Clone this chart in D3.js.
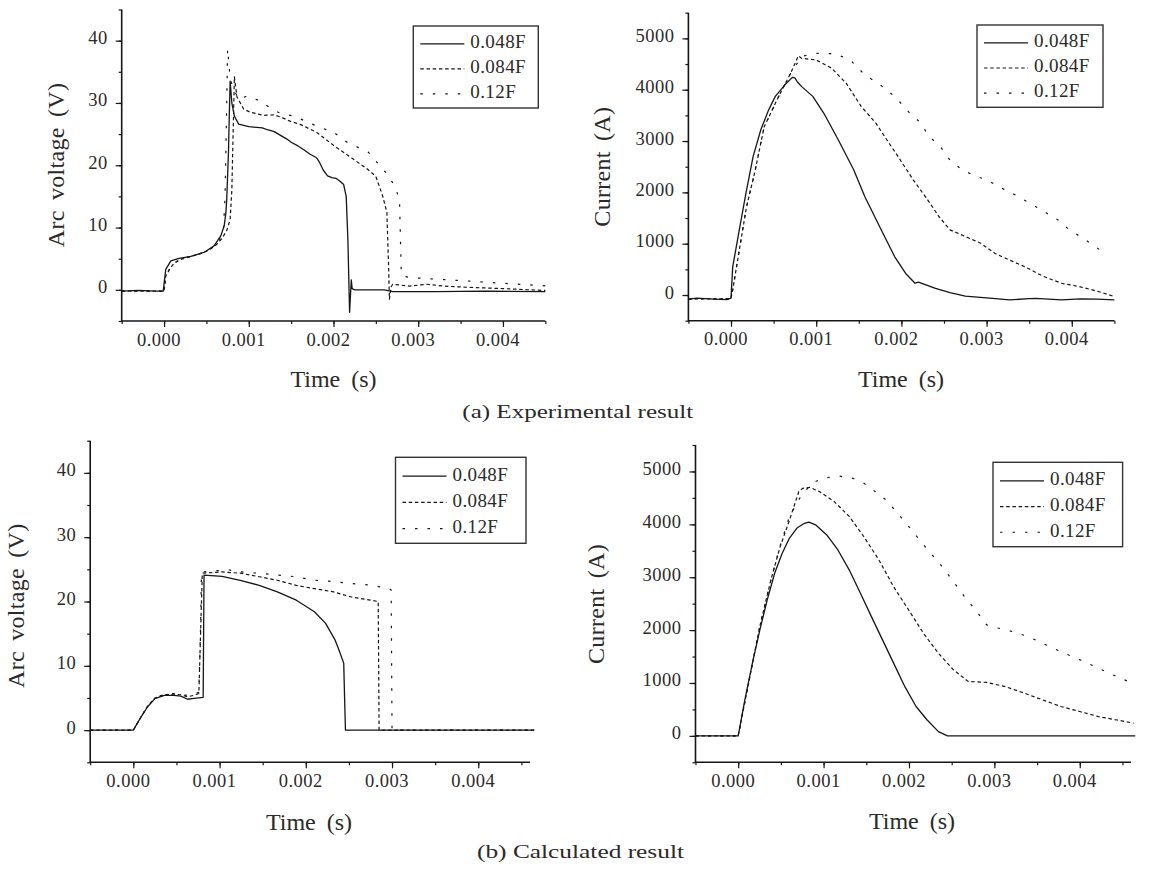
<!DOCTYPE html>
<html><head><meta charset="utf-8">
<script src="https://cdn.jsdelivr.net/npm/d3@7"></script>
<style>
body{margin:0;background:#fff;}
svg{display:block;font-family:"Liberation Serif","Times New Roman",serif;}
</style></head><body>
<svg id="c" width="1155" height="870"></svg>
<script>
// ---------------- data ----------------
const seriesNames = ["0.048F", "0.084F", "0.12F"];
const timeTicks = [0, 0.001, 0.002, 0.003, 0.004];
const voltTicks = [0, 10, 20, 30, 40];
const currTicks = [0, 1000, 2000, 3000, 4000, 5000];
const xTitle = "Time (s)";
const voltTitle = "Arc voltage (V)";
const currTitle = "Current (A)";
const captionA = "(a) Experimental result";
const captionB = "(b) Calculated result";

// experimental arc voltage [time s, V]
const expV048 = [[-0.0005,-0.2],[-0.0003,-0.1],[-0.0001,-0.2],[-0.00001,-0.2],[0.00002,3.3],[0.00008,4.65],[0.000177,5.04],[0.000315,5.36],[0.00047,6.0],[0.00059,7.06],[0.00067,8.67],[0.00071,10.3],[0.00073,12.4],[0.00074,14.6],[0.00076,22],[0.00077,28],[0.00078,33.5],[0.0008,30],[0.00083,27.9],[0.00088,26.6],[0.001,26.2],[0.00116,26.0],[0.00122,25.7],[0.0013,25.4],[0.00135,25.0],[0.0014,24.6],[0.00145,24.2],[0.0015,23.7],[0.00158,23.1],[0.00165,22.5],[0.00172,21.8],[0.0018,21.2],[0.00183,20.6],[0.00188,19.2],[0.00193,18.3],[0.00198,18.0],[0.00203,17.9],[0.00208,17.4],[0.00212,16.9],[0.00215,15.0],[0.00217,8],[0.00218,2],[0.00219,-3.6],[0.0022,-1],[0.00221,1.6],[0.00222,0.2],[0.00225,0],[0.0026,0],[0.0027,-0.3],[0.0032,-0.3],[0.0038,-0.2],[0.0045,-0.3]];
const expV084 = [[-0.0005,-0.2],[0,-0.2],[0.00002,2.2],[0.00006,3.2],[0.00012,4.3],[0.0002,4.9],[0.0003,5.3],[0.0004,5.7],[0.0005,6.2],[0.0006,7.0],[0.00068,8.2],[0.00074,9.5],[0.00078,11.3],[0.0008,16],[0.00082,28],[0.00083,34.2],[0.00086,31],[0.00094,29],[0.00102,28.5],[0.00118,28.0],[0.0013,28.1],[0.0014,27.6],[0.0015,27.0],[0.0016,26.6],[0.0018,25.3],[0.002,23.2],[0.0022,21.3],[0.0024,19.4],[0.0025,18.2],[0.00258,15.1],[0.00263,12.4],[0.00265,3.9],[0.00266,-1.5],[0.00268,0.5],[0.0027,0.9],[0.0029,0.6],[0.0031,0.9],[0.0033,0.6],[0.0036,0.4],[0.004,0.2],[0.0045,-0.1]];
const expV12 = [[-0.0005,-0.2],[0,-0.2],[0.00002,2.0],[0.00008,3.8],[0.00015,4.6],[0.00025,5.1],[0.00035,5.5],[0.00045,5.9],[0.00055,6.6],[0.00063,7.5],[0.0007,9.5],[0.00072,15],[0.00074,30],[0.00075,38.7],[0.00078,34],[0.00081,32.5],[0.00088,30.6],[0.00098,31.1],[0.00114,30.3],[0.00127,29],[0.00138,28.3],[0.00153,27.9],[0.0018,26.3],[0.002,25.3],[0.00216,23.7],[0.00241,22.1],[0.00265,18.3],[0.00274,16.2],[0.00278,14],[0.0028,2.8],[0.00282,2.2],[0.00289,2.0],[0.0031,1.8],[0.00355,1.45],[0.00398,1.07],[0.0045,0.65]];

// experimental current [time s, A]
const expI048 = [[-0.0005,-80],[-0.0004,-60],[-0.0002,-80],[-0.00005,-90],[0,-60],[0.00002,550],[0.00009,1200],[0.000175,1980],[0.00026,2700],[0.00035,3220],[0.00044,3600],[0.00052,3870],[0.00063,4090],[0.00072,4240],[0.00075,4230],[0.00078,4150],[0.00083,4060],[0.00096,3870],[0.00109,3540],[0.00126,3020],[0.00144,2440],[0.00157,1920],[0.001745,1330],[0.00192,750],[0.00205,420],[0.00216,230],[0.0022,250],[0.0024,130],[0.00257,45],[0.00275,-20],[0.003,-55],[0.00327,-95],[0.0035,-70],[0.00358,-65],[0.00388,-95],[0.0041,-75],[0.0043,-80],[0.0045,-95]];
const expI084 = [[-0.0005,-80],[0,-70],[0.00002,100],[0.0001,900],[0.00018,1700],[0.00028,2400],[0.00039,3280],[0.00056,3870],[0.0007,4320],[0.00079,4660],[0.00083,4610],[0.001,4580],[0.00118,4420],[0.00135,4130],[0.00153,3670],[0.0017,3350],[0.00183,3020],[0.00196,2700],[0.00214,2240],[0.00231,1850],[0.00244,1530],[0.00257,1270],[0.00275,1140],[0.00293,1010],[0.0031,810],[0.00327,680],[0.00345,550],[0.00367,360],[0.00388,230],[0.0041,160],[0.00432,65],[0.0045,-30]];
const expI12 = [[-0.0005,-80],[0,-70],[0.00002,100],[0.0001,900],[0.00018,1700],[0.00028,2400],[0.00039,3280],[0.00056,3870],[0.0007,4320],[0.00083,4650],[0.001,4710],[0.00122,4700],[0.0014,4580],[0.00157,4290],[0.0017,4150],[0.00183,4000],[0.00196,3800],[0.0021,3540],[0.00223,3350],[0.00231,3120],[0.00247,2860],[0.00257,2630],[0.00271,2440],[0.00288,2310],[0.00301,2240],[0.00314,2110],[0.00327,2010],[0.0034,1890],[0.00358,1720],[0.00371,1590],[0.00384,1460],[0.00397,1270],[0.0041,1140],[0.00428,940],[0.00441,780]];

// calculated arc voltage [time s, V]
const calcV048 = [[-0.0005,0],[0,0],[0.000078,1.8],[0.000164,3.6],[0.00025,4.9],[0.00036,5.4],[0.00047,5.4],[0.00055,5.3],[0.00063,4.8],[0.00068,4.9],[0.00081,5.1],[0.00082,24.1],[0.00103,23.9],[0.00124,23.3],[0.00146,22.5],[0.00167,21.5],[0.00189,20.2],[0.0021,18.4],[0.00223,16.6],[0.00234,14.0],[0.0024,11.9],[0.00244,10.4],[0.00245,5],[0.00246,0],[0.00465,0]];
const calcV084 = [[-0.0005,0],[0,0],[0.000078,1.8],[0.000164,3.7],[0.00025,5.0],[0.00036,5.5],[0.00047,5.6],[0.00055,5.5],[0.00063,5.2],[0.0007,5.4],[0.00076,5.7],[0.00078,15],[0.0008,24.4],[0.00103,24.6],[0.00124,24.4],[0.00146,23.85],[0.00167,23.3],[0.00189,22.5],[0.0021,22.0],[0.00232,21.5],[0.00253,20.7],[0.00275,20.2],[0.00284,20.0],[0.00285,0],[0.00465,0]];
const calcV12 = [[-0.0005,0],[0,0],[0.000078,1.8],[0.000164,3.7],[0.00025,5.0],[0.00036,5.6],[0.00047,5.7],[0.00055,5.6],[0.00063,5.4],[0.0007,5.6],[0.00076,5.9],[0.00078,16],[0.00079,24.6],[0.00098,24.8],[0.00111,24.9],[0.00124,24.6],[0.00146,24.4],[0.00167,24.1],[0.00189,23.85],[0.0021,23.3],[0.00232,23.1],[0.00253,22.8],[0.00275,22.55],[0.00297,22.0],[0.00299,21.8],[0.003,0],[0.00465,0]];

// calculated current [time s, A]
const calcI048 = [[-0.0005,0],[0,0],[0.000078,680],[0.000166,1370],[0.000253,2000],[0.00034,2570],[0.000427,3075],[0.000514,3450],[0.000601,3740],[0.000688,3930],[0.000776,4020],[0.000828,4040],[0.000906,3990],[0.001037,3800],[0.001168,3515],[0.0013,3140],[0.00143,2700],[0.00156,2255],[0.00169,1815],[0.00182,1375],[0.001952,930],[0.002083,555],[0.002213,300],[0.002345,80],[0.00245,0],[0.00465,0]];
const calcI084 = [[-0.0005,0],[0,0],[0.000122,1000],[0.000253,2070],[0.000383,2950],[0.000492,3580],[0.000601,4080],[0.00071,4620],[0.000754,4680],[0.00084,4700],[0.00095,4620],[0.001124,4430],[0.0013,4150],[0.00147,3770],[0.001647,3330],[0.00182,2820],[0.001996,2380],[0.00217,1940],[0.002345,1560],[0.00252,1250],[0.002693,1030],[0.00291,1010],[0.00313,930],[0.003347,810],[0.003565,680],[0.00378,555],[0.004,460],[0.004218,365],[0.004436,300],[0.00463,240]];
const calcI12 = [[-0.0005,0],[0,0],[0.000122,1000],[0.000253,2070],[0.000383,2950],[0.000492,3600],[0.000601,4150],[0.00073,4520],[0.000863,4780],[0.000994,4870],[0.001168,4915],[0.001342,4870],[0.00147,4780],[0.001604,4620],[0.001734,4460],[0.001865,4210],[0.001996,3960],[0.002126,3700],[0.002257,3450],[0.002388,3200],[0.00252,2920],[0.00265,2630],[0.00278,2380],[0.00291,2100],[0.00304,2040],[0.003217,1970],[0.00339,1880],[0.003565,1750],[0.00378,1590],[0.004,1440],[0.004218,1280],[0.004393,1150],[0.004567,1030]];

// ---------------- layout ----------------
const dashes = [null, "3.5,2.7", "2.5,10"];
const panels = [
  {xr:[121.7,545.3], yr:[321,9.5], xd:[-0.0005,0.0045], yd:[-5,45], yt:voltTicks, ym:5,
   yTitle:voltTitle, yTitlePos:[63.6,165], xTitlePos:[333.5,387], series:[expV048,expV084,expV12], leg:[413.3,26,125,82]},
  {xr:[688.4,1114.4], yr:[320.7,12.7], xd:[-0.0005,0.0045], yd:[-500,5500], yt:currTicks, ym:500,
   yTitle:currTitle, yTitlePos:[610,166.7], xTitlePos:[901,386.5], series:[expI048,expI084,expI12], leg:[977,25,126,82.3]},
  {xr:[90.2,530], yr:[762.3,440.7], xd:[-0.0005,0.0046], yd:[-5,45], yt:voltTicks, ym:5,
   yTitle:voltTitle, yTitlePos:[24,605.7], xTitlePos:[309,829.5], series:[calcV048,calcV084,calcV12], leg:[395.5,457.3,130.5,86]},
  {xr:[695.5,1131], yr:[762.3,445], xd:[-0.0005,0.0046], yd:[-500,5500], yt:currTicks, ym:500,
   yTitle:currTitle, yTitlePos:[603.5,604], xTitlePos:[912,828.5], series:[calcI048,calcI084,calcI12], leg:[993,462.3,129.6,84.4]}
];

const svg = d3.select("#c");
const ink = "#161616";
const textInk = "#2a2a2a";

panels.forEach(p => {
  const x = d3.scaleLinear().domain(p.xd).range(p.xr);
  const y = d3.scaleLinear().domain(p.yd).range(p.yr);
  const g = svg.append("g");

  // minor ticks
  const xMinor = d3.range(-0.0005, p.xd[1] + 1e-9, 0.0005).map(v => +v.toFixed(5));
  const yMinor = d3.range(p.yd[0], p.yd[1] + 1e-9, p.ym);
  g.append("g").attr("transform", `translate(0,${p.yr[0]})`)
    .call(d3.axisBottom(x).tickValues(xMinor).tickSize(3).tickSizeOuter(0).tickFormat(""))
    .call(s => s.select(".domain").remove())
    .call(s => s.selectAll("line").attr("stroke", ink).attr("stroke-width", 1.2));
  g.append("g").attr("transform", `translate(${p.xr[0]},0)`)
    .call(d3.axisLeft(y).tickValues(yMinor).tickSize(3).tickSizeOuter(0).tickFormat(""))
    .call(s => s.select(".domain").remove())
    .call(s => s.selectAll("line").attr("stroke", ink).attr("stroke-width", 1.2));

  // major ticks + labels
  g.append("g").attr("transform", `translate(0,${p.yr[0]})`)
    .call(d3.axisBottom(x).tickValues(timeTicks).tickSize(6).tickSizeOuter(0).tickFormat(d3.format(".3f")))
    .call(s => s.select(".domain").remove())
    .call(s => s.selectAll("line").attr("stroke", ink).attr("stroke-width", 1.2))
    .call(s => s.selectAll("text").attr("y", 24.5).attr("dy", null).attr("x", -5.5)
      .attr("fill", textInk).style("font-size", "18.5px").style("letter-spacing", "0.5px")
      .style("font-family", '"Liberation Serif",serif'));
  g.append("g").attr("transform", `translate(${p.xr[0]},0)`)
    .call(d3.axisLeft(y).tickValues(p.yt).tickSize(6).tickSizeOuter(0).tickFormat(d3.format("d")))
    .call(s => s.select(".domain").remove())
    .call(s => s.selectAll("line").attr("stroke", ink).attr("stroke-width", 1.2))
    .call(s => s.selectAll("text").attr("x", -14).attr("dy", null).attr("y", 3)
      .attr("fill", textInk).style("font-size", "18.5px").style("letter-spacing", "0.5px")
      .style("font-family", '"Liberation Serif",serif'));

  // axis lines
  g.append("line").attr("x1", p.xr[0]).attr("x2", p.xr[1]).attr("y1", p.yr[0]).attr("y2", p.yr[0])
    .attr("stroke", ink).attr("stroke-width", 1.6);
  g.append("line").attr("x1", p.xr[0]).attr("x2", p.xr[0]).attr("y1", p.yr[0] + 0.8).attr("y2", p.yr[1])
    .attr("stroke", ink).attr("stroke-width", 1.6);

  // series
  const line = d3.line().x(d => x(d[0])).y(d => y(d[1]));
  p.series.forEach((s, i) => {
    g.append("path").datum(s).attr("d", line).attr("fill", "none")
      .attr("stroke", ink).attr("stroke-width", i === 0 ? 1.3 : 1.2)
      .attr("stroke-dasharray", dashes[i]).attr("stroke-linejoin", "round");
  });

  // axis titles
  g.append("text").attr("x", p.xTitlePos[0]).attr("y", p.xTitlePos[1]).attr("text-anchor", "middle")
    .attr("fill", textInk).style("font-size", "24px").style("word-spacing", "5px").text(xTitle);
  g.append("text").attr("transform", `translate(${p.yTitlePos[0]},${p.yTitlePos[1]}) rotate(-90)`)
    .attr("text-anchor", "middle").attr("fill", textInk).style("font-size", "24px")
    .style("letter-spacing", "0.3px").style("word-spacing", "4px").text(p.yTitle);

  // legend
  const [L, T, W, H] = p.leg;
  const lg = g.append("g");
  lg.append("rect").attr("x", L).attr("y", T).attr("width", W).attr("height", H)
    .attr("fill", "#fff").attr("stroke", "#333").attr("stroke-width", 1.4);
  seriesNames.forEach((n, i) => {
    const base = T + H * 0.27 + i * H * 0.305;
    lg.append("line").attr("x1", L + 7).attr("x2", L + 51).attr("y1", base - 4.3).attr("y2", base - 4.3)
      .attr("stroke", ink).attr("stroke-width", i === 0 ? 1.3 : 1.2).attr("stroke-dasharray", dashes[i]);
    lg.append("text").attr("x", L + 57).attr("y", base).attr("fill", textInk)
      .style("font-size", "19px").style("letter-spacing", "0.4px").text(n);
  });
});

// captions
svg.append("text").attr("x", 462.3).attr("y", 417.7).attr("fill", textInk).style("font-size", "19px")
  .attr("textLength", 231).attr("lengthAdjust", "spacingAndGlyphs").text(captionA);
svg.append("text").attr("x", 477).attr("y", 858).attr("fill", textInk).style("font-size", "19px")
  .attr("textLength", 207).attr("lengthAdjust", "spacingAndGlyphs").text(captionB);
</script>
</body></html>
